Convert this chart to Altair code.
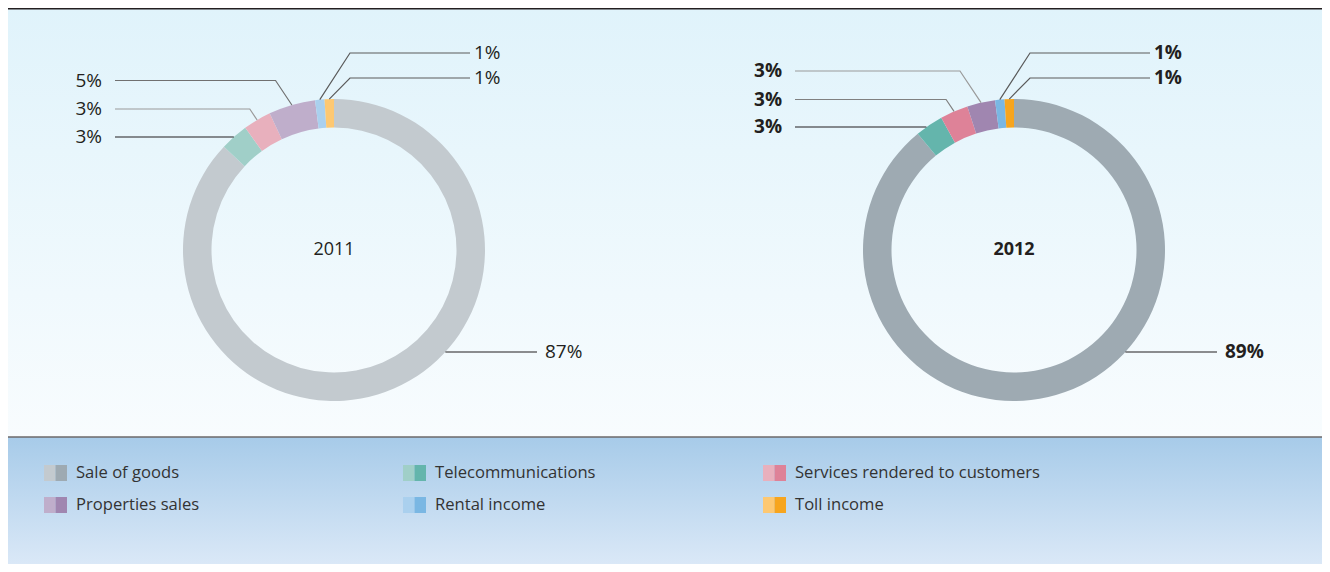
import math
import altair as alt
import pandas as pd

# ---------------- data ----------------
categories = ["Sale of goods", "Telecommunications", "Services rendered to customers",
              "Properties sales", "Rental income", "Toll income"]
years = ["2011", "2012"]
values_2011 = [87, 3, 3, 5, 1, 1]
values_2012 = [89, 3, 3, 3, 1, 1]
labels_2011 = ["87%", "3%", "3%", "5%", "1%", "1%"]
labels_2012 = ["89%", "3%", "3%", "3%", "1%", "1%"]

# ---------------- styles / layout ----------------
colors_2011 = ["#c3cacf", "#a0cfc8", "#e8b0bd", "#bfaecb", "#aad0ee", "#fdc872"]
colors_2012 = ["#9eaab2", "#64b5ac", "#de8298", "#a086b0", "#7ab7e3", "#f7a51e"]
leader_2011 = ["#231f20", "#231f20", "#9a9a9a", "#707070", "#5a5a5a", "#5a5a5a"]
leader_2012 = ["#231f20", "#231f20", "#808080", "#9a9a9a", "#5a5a5a", "#5a5a5a"]

W, H = 1314, 556
OFF = 8
FONT = "Open Sans"
TXT = "#231f20"
R_OUT, R_IN = 151, 122.5
centers = {"2011": (334 - OFF, 250 - OFF), "2012": (1014 - OFF, 250 - OFF)}
rows = {"2011": [352, 137, 109, 80.5, 53, 78], "2012": [352, 127, 99.5, 71, 53, 78]}
side = ["big", "left", "left", "left", "right", "right"]
legend_cols = [44, 403, 763]
legend_rows = [473, 505]

series = {
    "2011": (values_2011, labels_2011, colors_2011, leader_2011),
    "2012": (values_2012, labels_2012, colors_2012, leader_2012),
}

xs = alt.Scale(domain=[0, W], nice=False, zero=False)
ys = alt.Scale(domain=[0, H], nice=False, zero=False, reverse=True)


def X(f):
    return alt.X(f, type="quantitative", scale=xs, axis=None)


def Y(f):
    return alt.Y(f, type="quantitative", scale=ys, axis=None)


# ---------------- derived tables ----------------
arc_rows, line_rows, text_rows = [], [], []
for yr in years:
    vals, labs, cols, lcols = series[yr]
    cx, cy = centers[yr]
    total = float(sum(vals))
    cum = 0.0
    for i, v in enumerate(vals):
        arc_rows.append({"year": yr, "cat": categories[i], "value": v, "idx": i, "fill": cols[i]})
        mid = (cum + v / 2.0) / total * 2 * math.pi
        cum += v
        px = cx + R_OUT * math.sin(mid)
        py = cy - R_OUT * math.cos(mid)
        ry = rows[yr][i] - OFF
        s = side[i]
        if s == "big":
            ex = cx + math.sqrt(max(R_OUT ** 2 - (ry - cy) ** 2, 0))
            pts = [(cx + 203, ry), (ex, ry)]
            tx, al = cx + 211, "left"
        elif s == "left":
            if abs(py - ry) < 4:
                ex = cx - math.sqrt(max(R_OUT ** 2 - (ry - cy) ** 2, 0))
                pts = [(cx - 219, ry), (ex, ry)]
            else:
                elbow = px - (py - ry) / 1.5
                pts = [(cx - 219, ry), (elbow, ry), (px, py)]
            tx, al = cx - 232, "right"
        else:
            pts = [(cx + 136, ry), (cx + 16, ry), (px, py)]
            tx, al = cx + 140, "left"
        for j, (a, b) in enumerate(pts):
            line_rows.append({"id": f"{yr}-{i}", "seq": j, "x": a, "y": b, "lc": lcols[i]})
        text_rows.append({"year": yr, "x": tx, "y": ry, "label": labs[i], "align": al})

arc_df = pd.DataFrame(arc_rows)
line_df = pd.DataFrame(line_rows)
text_df = pd.DataFrame(text_rows)
center_df = pd.DataFrame({"year": years,
                          "x": [centers[y][0] for y in years],
                          "y": [centers[y][1] for y in years]})

leg_rows = []
for i, c in enumerate(categories):
    lx = legend_cols[i % 3] - OFF
    ly = legend_rows[i // 3] - OFF
    leg_rows.append({"cat": c, "x": lx, "xm": lx + 11.5, "x2": lx + 23,
                     "y": ly - 8, "y2": ly + 8, "tx": lx + 32, "ty": ly,
                     "c1": colors_2011[i], "c2": colors_2012[i]})
leg_df = pd.DataFrame(leg_rows)

# ---------------- layers ----------------
top_bg = alt.Chart(pd.DataFrame({"a": [0]})).mark_rect(
    fill=alt.Gradient(gradient="linear",
                      stops=[alt.GradientStop(color="#e0f3fb", offset=0),
                             alt.GradientStop(color="#f8fcfe", offset=1)],
                      x1=0, x2=0, y1=0, y2=1)
).encode(x=alt.value(0), x2=alt.value(W), y=alt.value(0), y2=alt.value(428.5))

leg_bg = alt.Chart(pd.DataFrame({"a": [0]})).mark_rect(
    fill=alt.Gradient(gradient="linear",
                      stops=[alt.GradientStop(color="#a7cbe9", offset=0),
                             alt.GradientStop(color="#dae8f7", offset=1)],
                      x1=0, x2=0, y1=0, y2=1)
).encode(x=alt.value(0), x2=alt.value(W), y=alt.value(429.5), y2=alt.value(H))

top_rule = alt.Chart(pd.DataFrame({"a": [0]})).mark_rule(color="#231f20", strokeWidth=1.5).encode(
    x=alt.value(0), x2=alt.value(W), y=alt.value(0.75))
sep_rule = alt.Chart(pd.DataFrame({"a": [0]})).mark_rule(color="#231f20", strokeWidth=1.2).encode(
    x=alt.value(0), x2=alt.value(W), y=alt.value(429))

arcs = []
for yr in years:
    cx, cy = centers[yr]
    arcs.append(
        alt.Chart(arc_df).transform_filter(alt.datum.year == yr).mark_arc(
            outerRadius=R_OUT, innerRadius=R_IN
        ).encode(
            theta=alt.Theta("value:Q", stack=True, scale=alt.Scale(domain=[0, 100])),
            order=alt.Order("idx:Q"),
            fill=alt.Fill("fill:N", scale=None),
            x=alt.value(cx), y=alt.value(cy),
        )
    )

leaders = alt.Chart(line_df).mark_line(strokeWidth=1.2).encode(
    x=X("x"), y=Y("y"), detail="id:N", order=alt.Order("seq:Q"),
    stroke=alt.Stroke("lc:N", scale=None),
)

texts = []
for yr, wt in zip(years, ["normal", "bold"]):
    for al in ["left", "right"]:
        texts.append(
            alt.Chart(text_df).transform_filter(
                (alt.datum.year == yr) & (alt.datum.align == al)
            ).mark_text(align=al, baseline="middle", font=FONT, fontSize=19,
                        fontWeight=wt, color=TXT).encode(x=X("x"), y=Y("y"), text="label:N")
        )
    texts.append(
        alt.Chart(center_df).transform_filter(alt.datum.year == yr).mark_text(
            align="center", baseline="middle", font=FONT, fontSize=18, fontWeight=wt, color=TXT
        ).encode(x=X("x"), y=Y("y"), text="year:N")
    )

sw1 = alt.Chart(leg_df).mark_rect().encode(x=X("x"), x2="xm", y=Y("y"), y2="y2",
                                           fill=alt.Fill("c1:N", scale=None))
sw2 = alt.Chart(leg_df).mark_rect().encode(x=X("xm"), x2="x2", y=Y("y"), y2="y2",
                                           fill=alt.Fill("c2:N", scale=None))
leg_text = alt.Chart(leg_df).mark_text(align="left", baseline="middle", font=FONT,
                                       fontSize=16.6, color="#333333").encode(
    x=X("tx"), y=Y("ty"), text="cat:N")

chart = alt.layer(top_bg, leg_bg, top_rule, sep_rule, *arcs, leaders, *texts, sw1, sw2, leg_text
                  ).resolve_scale(theta="independent").properties(
    width=W, height=H, padding=0, autosize="none"
).configure_view(strokeWidth=0)

chart.save("out.html", embed_options={"renderer": "svg", "actions": False})
